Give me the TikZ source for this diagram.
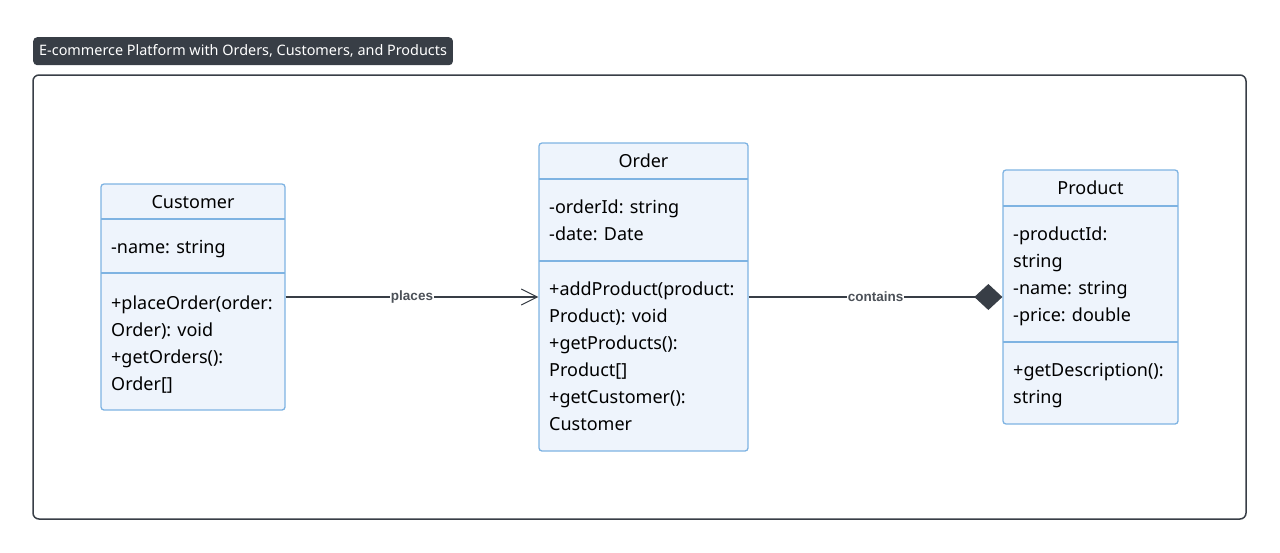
\documentclass[tikz,border=0pt]{standalone}
\usepackage{fontspec}
\setmainfont{Noto Sans}
\newfontfamily\labelfont{Liberation Sans}
\usetikzlibrary{arrows.meta,positioning}
\definecolor{boxfill}{HTML}{EEF4FC}
\definecolor{boxline}{HTML}{7EB3E2}
\definecolor{darkgrey}{HTML}{383E46}
\tikzset{
	classbox/.style={draw=boxline, fill=boxfill, line width=1.3pt, rounded corners=3pt, inner sep=0pt},
	classname/.style={font=\fontsize{18}{22}\selectfont, anchor=base},
	members/.style={font=\fontsize{18}{27}\selectfont, align=left, anchor=north west, inner sep=0pt},
	compline/.style={draw=boxline, line width=1.3pt},
	link/.style={draw=darkgrey, line width=1.2pt},
	linklabel/.style={font=\labelfont\bfseries\fontsize{13.5}{15}\selectfont, text=darkgrey!90, fill=white, inner sep=1pt}
}

\begin{document}
\begin{tikzpicture}[x=1pt,y=-1pt]
	\useasboundingbox (0,0) rectangle (1280,552);
	% title tag and frame
	\node[fill=darkgrey, rounded corners=4pt, text=white, font=\fontsize{14.4}{16}\selectfont, inner xsep=6pt, inner ysep=0pt, minimum height=28pt, anchor=north west] (title) at (33,37) {E-commerce Platform with Orders, Customers, and Products};
	\draw[darkgrey, line width=1.5pt, rounded corners=6pt] (33,75) rectangle (1246,519);
	% Customer
	\node[classbox, minimum width=184pt, minimum height=226pt] (customer) at (193,297) {};
	\node[classname] (customername) at (193,208) {Customer};
	\draw[compline] (101,219) -- (285,219);
	\draw[compline] (101,273) -- (285,273);
	\node[members] (customerattr) at (111,240) {-name: string};
	\node[members] (customerops) at (111,296) {+placeOrder(order:\\Order): void\\+getOrders():\\Order[]};
	% Order
	\node[classbox, minimum width=209pt, minimum height=308pt] (order) at (643.5,297) {};
	\node[classname] (ordername) at (643.5,167) {Order};
	\draw[compline] (539,179) -- (748,179);
	\draw[compline] (539,261) -- (748,261);
	\node[members] (orderattr) at (549,200) {-orderId: string\\-date: Date};
	\node[members] (orderops) at (549,282) {+addProduct(product:\\Product): void\\+getProducts():\\Product[]\\+getCustomer():\\Customer};
	% Product
	\node[classbox, minimum width=175pt, minimum height=254pt] (product) at (1090.5,297) {};
	\node[classname] (productname) at (1090.5,194) {Product};
	\draw[compline] (1003,206) -- (1178,206);
	\draw[compline] (1003,342) -- (1178,342);
	\node[members] (productattr) at (1013,227) {-productId:\\string\\-name: string\\-price: double};
	\node[members] (productops) at (1013,363) {+getDescription():\\string};
	% relations
	\draw[link, -{Straight Barb[length=16pt, width=16pt, line width=1pt]}] (customer) -- node[linklabel] {places} (order);
	\draw[link, -{Diamond[length=28pt, width=26pt, fill=darkgrey]}] (order) -- node[linklabel] {contains} (product);
\end{tikzpicture}
\end{document}
